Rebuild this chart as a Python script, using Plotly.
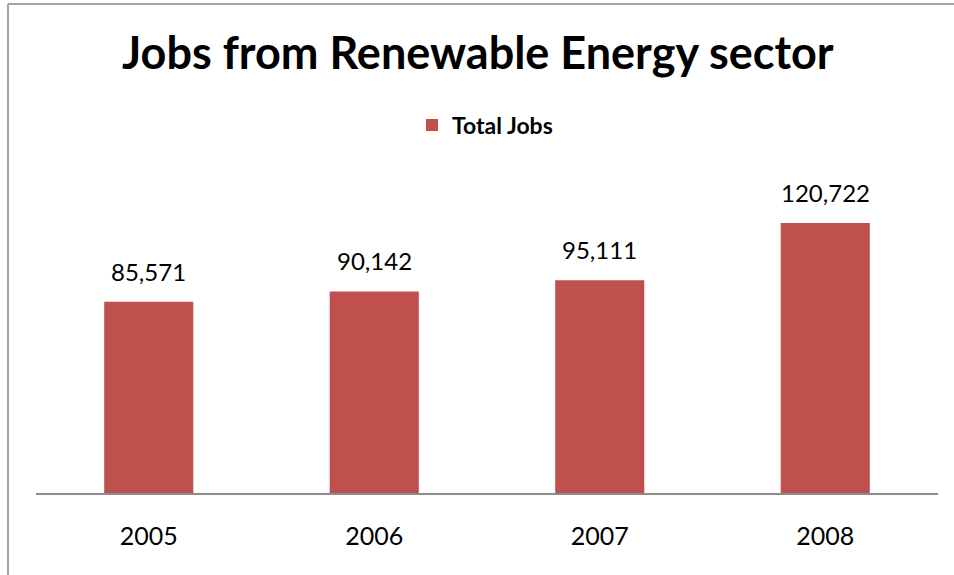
import plotly.graph_objects as go

years = ["2005", "2006", "2007", "2008"]
total_jobs = [85571, 90142, 95111, 120722]
labels = ["85,571", "90,142", "95,111", "120,722"]

W, H = 954, 575
L, R, T, B = 36, 16, 180, 82
pw, ph = W - L - R, H - T - B

def px_x(px):
    return (px - L) / pw

def px_y(py):
    return (H - B - py) / ph

fig = go.Figure()
fig.add_trace(go.Bar(
    x=years, y=total_jobs, name="<b>Total Jobs</b>",
    marker=dict(color="#C0504D", line=dict(width=0)),
))

for i, (v, lab) in enumerate(zip(total_jobs, labels)):
    fig.add_annotation(x=i, y=v, text=lab, showarrow=False, xref="x", yref="y",
                       yanchor="bottom", yshift=14,
                       font=dict(family="Lato", size=24, color="#000000"))

fig.add_annotation(x=px_x(478), y=px_y(52), xref="paper", yref="paper",
                   text="<b>Jobs from Renewable Energy sector</b>", showarrow=False,
                   xanchor="center", yanchor="middle",
                   font=dict(family="Lato", size=45, color="#000000"))

# frame lines
fig.add_shape(type="line", xref="paper", yref="paper",
              x0=px_x(8), x1=px_x(954), y0=px_y(4), y1=px_y(4),
              line=dict(color="#A6A6A6", width=2))
fig.add_shape(type="line", xref="paper", yref="paper",
              x0=px_x(8), x1=px_x(8), y0=px_y(4), y1=px_y(575),
              line=dict(color="#A6A6A6", width=2))

fig.update_layout(
    width=W, height=H,
    margin=dict(l=L, r=R, t=T, b=B, autoexpand=False),
    paper_bgcolor="white", plot_bgcolor="white",
    bargap=0.605,
    showlegend=True,
    legend=dict(orientation="h", x=px_x(485), y=px_y(125), xanchor="center", yanchor="middle",
                font=dict(family="Lato", size=23, color="#000000"),
                itemwidth=30, bgcolor="rgba(0,0,0,0)"),
    xaxis=dict(type="category", range=[-0.5, 3.5], showline=True, linecolor="#8C8C8C",
               linewidth=2, ticks="",
               tickfont=dict(family="Lato", size=25, color="#000000"),
               showgrid=False, zeroline=False, ticklabelstandoff=20),
    yaxis=dict(range=[0, 140000], visible=False, showgrid=False, zeroline=False),
)

fig.write_html("out.html", config={"displayModeBar": False},
               post_script="document.body.style.margin='0';")
